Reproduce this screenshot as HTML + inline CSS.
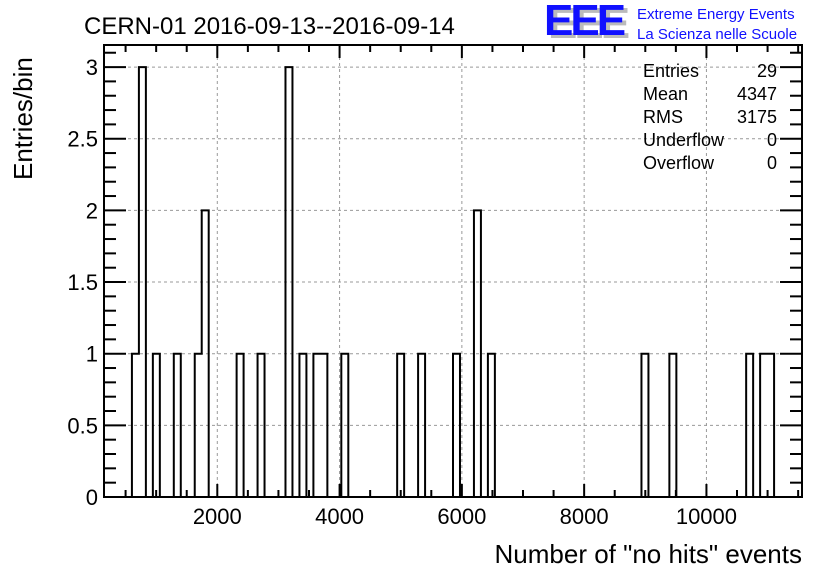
<!DOCTYPE html>
<html><head><meta charset="utf-8"><style>
body{margin:0;background:#fff;}
svg{display:block;font-family:"Liberation Sans",sans-serif;}
</style></head><body>
<svg id="c" width="836" height="572">
<rect width="836" height="572" fill="#fff"/>
<g id="grid"></g>
<g id="bars"></g>
<g id="axes"></g>
<text x="84" y="34" font-size="24">CERN-01 2016-09-13--2016-09-14</text>
<text x="802" y="563" font-size="26" text-anchor="end">Number of "no hits" events</text>
<text transform="translate(32,180) rotate(-90)" font-size="26">Entries/bin</text>
<g>
<text x="548" y="38" font-size="44" font-weight="bold" fill="#bbb" letter-spacing="-3">EEE</text>
<text x="544" y="35" font-size="44" font-weight="bold" fill="#1010ff" letter-spacing="-3">EEE</text>
<text x="637" y="19" font-size="15" fill="#1010ff">Extreme Energy Events</text>
<text x="637" y="39" font-size="15" fill="#1010ff">La Scienza nelle Scuole</text>
</g>
<g font-size="18">
<text x="643" y="77">Entries</text><text x="777" y="77" text-anchor="end">29</text>
<text x="643" y="100">Mean</text><text x="777" y="100" text-anchor="end">4347</text>
<text x="643" y="123">RMS</text><text x="777" y="123" text-anchor="end">3175</text>
<text x="643" y="146">Underflow</text><text x="777" y="146" text-anchor="end">0</text>
<text x="643" y="169">Overflow</text><text x="777" y="169" text-anchor="end">0</text>
</g>
</svg>
<script>
const counts = new Array(100).fill(0);
const filledBins = [4,5,7,10,13,14,19,22,26,28,30,31,34,42,45,50,53,55,77,81,92,94,95];
const filledCounts = [1,3,1,1,1,2,1,1,3,1,1,1,1,1,1,1,2,1,1,1,1,1,1];
filledBins.forEach((b,i)=>counts[b]=filledCounts[i]);
const xTicks = [2000,4000,6000,8000,10000];
const yTicks = [0,0.5,1,1.5,2,2.5,3];
const yTickLabels = ["0","0.5","1","1.5","2","2.5","3"];
const xMin = 147, xMax = 11563, yMax = 3.154;

const L=104,R=802,T=45,B=497;
const NS="http://www.w3.org/2000/svg";
const sx=v=>L+(v-xMin)/(xMax-xMin)*(R-L);
const sy=v=>B-v/yMax*(B-T);
function mk(tag,attrs,parent){const e=document.createElementNS(NS,tag);for(const k in attrs)e.setAttribute(k,attrs[k]);parent.appendChild(e);return e;}
const grid=document.getElementById('grid'),axes=document.getElementById('axes'),bars=document.getElementById('bars');
xTicks.forEach(v=>{const l=mk('line',{x1:sx(v),x2:sx(v),y1:T,y2:B,stroke:'#999','stroke-dasharray':'3,3','stroke-width':1},grid);

});
yTicks.forEach(v=>{if(v===0)return;const l=mk('line',{x1:L,x2:R,y1:sy(v),y2:sy(v),stroke:'#999','stroke-dasharray':'3,3','stroke-width':1},grid);

});
// histogram outline
const n=counts.length,bw=(R-L)/n;
let d='M'+L+','+B;
for(let i=0;i<n;i++){d+=' L'+(L+i*bw)+','+sy(counts[i])+' L'+(L+(i+1)*bw)+','+sy(counts[i]);}
d+=' L'+R+','+B;
const p=mk('path',{d:d,fill:'none',stroke:'#000','stroke-width':2},bars);


// frame
const fr=mk('rect',{x:L,y:T,width:R-L,height:B-T,fill:'none',stroke:'#000','stroke-width':2},axes);


// x ticks
for(let v=500;v<=xMax;v+=500){const maj=v%2000===0;const len=maj?13:7;
mk('line',{x1:sx(v),x2:sx(v),y1:B,y2:B-len,stroke:'#000','stroke-width':2},axes);
mk('line',{x1:sx(v),x2:sx(v),y1:T,y2:T+len,stroke:'#000','stroke-width':2},axes);}
xTicks.forEach(v=>{const t=mk('text',{x:sx(v),y:B+27,'font-size':22,'text-anchor':'middle'},axes);t.textContent=v;

});
// y ticks
for(let k=0;k<=31;k++){const v=k/10;const maj=k%5===0;const len=maj?22:12;
mk('line',{x1:L,x2:L+len,y1:sy(v),y2:sy(v),stroke:'#000','stroke-width':2},axes);
mk('line',{x1:R,x2:R-len,y1:sy(v),y2:sy(v),stroke:'#000','stroke-width':2},axes);}
yTicks.forEach((v,i)=>{const t=mk('text',{x:L-6,y:sy(v)+8,'font-size':22,'text-anchor':'end'},axes);t.textContent=yTickLabels[i];

});
</script>
</body></html>
